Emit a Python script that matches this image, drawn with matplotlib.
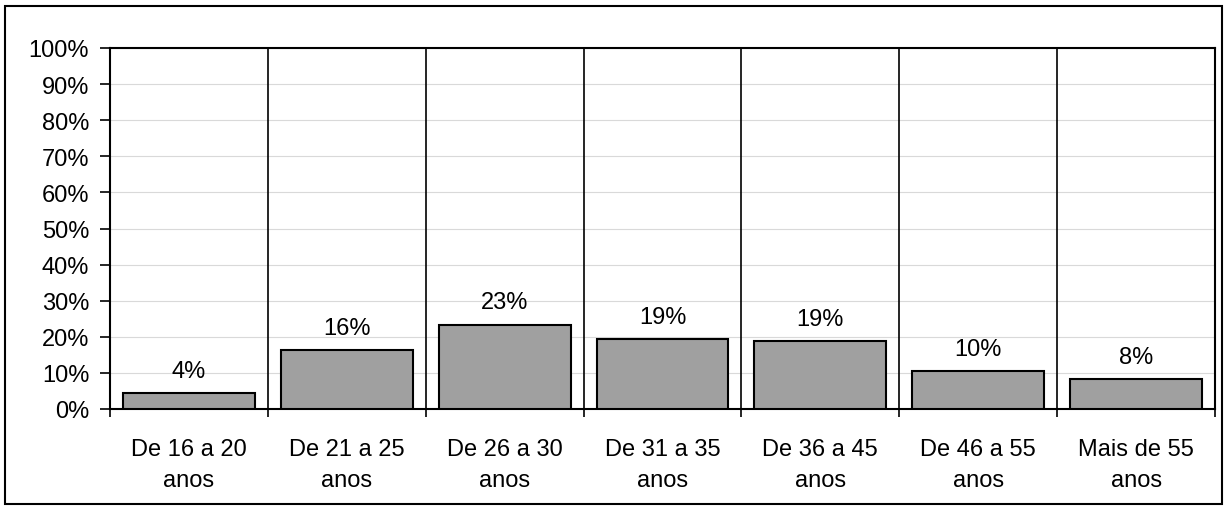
import matplotlib
matplotlib.use("Agg")
import matplotlib.pyplot as plt
from matplotlib.patches import Rectangle
from matplotlib.ticker import FixedLocator
import numpy as np

categories = ["De 16 a 20\nanos", "De 21 a 25\nanos", "De 26 a 30\nanos",
              "De 31 a 35\nanos", "De 36 a 45\nanos", "De 46 a 55\nanos",
              "Mais de 55\nanos"]
values = [4.4, 16.3, 23.4, 19.3, 18.8, 10.4, 8.3]
value_labels = ["4%", "16%", "23%", "19%", "19%", "10%", "8%"]
y_ticks = list(range(0, 101, 10))

plt.rcParams["font.family"] = ["Liberation Sans", "DejaVu Sans"]
FS = 17

fig = plt.figure(figsize=(12.27, 5.10), dpi=100)
ax = fig.add_axes([110 / 1227, 1 - 410 / 510, 1105 / 1227, 361 / 510])

x = np.arange(len(categories))
ax.bar(x, values, width=0.835, color="#a0a0a0", edgecolor="black",
       linewidth=1.5, zorder=3)

for xi, v, lab in zip(x, values, value_labels):
    ax.text(xi, v + 4.5, lab, ha="center", va="baseline", fontsize=FS)

ax.set_xlim(-0.5, len(categories) - 0.5)
ax.set_ylim(0, 100)

# horizontal gridlines at each 10%
ax.set_yticks(y_ticks)
ax.set_yticklabels([f"{t}%" for t in y_ticks], fontsize=FS)
ax.yaxis.grid(True, color="#d9d9d9", linewidth=0.8, zorder=0)
ax.tick_params(axis="y", length=7, width=1.2, pad=8)

# vertical separators between categories
for b in np.arange(0.5, len(categories) - 0.5, 1):
    ax.axvline(b, color="black", linewidth=1.2, zorder=2)

ax.set_xticks(x)
ax.set_xticklabels(categories, fontsize=FS, linespacing=1.5)
ax.tick_params(axis="x", which="major", length=0, pad=21)
ax.xaxis.set_minor_locator(FixedLocator(np.arange(-0.5, len(categories), 1)))
ax.tick_params(axis="x", which="minor", length=6, width=1.2)

for s in ax.spines.values():
    s.set_linewidth(1.5)
    s.set_color("black")

fig.patches.append(Rectangle((5 / 1227, 5 / 510), 1217 / 1227, 498 / 510,
                             transform=fig.transFigure, fill=False,
                             edgecolor="black", linewidth=1.5))

fig.savefig("out.png", dpi=100)
